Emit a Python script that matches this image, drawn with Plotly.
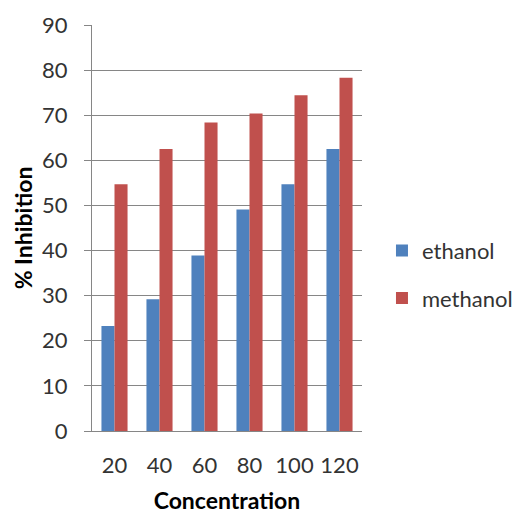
import plotly.graph_objects as go

categories = ["20", "40", "60", "80", "100", "120"]
ethanol = [23.3, 29.2, 38.9, 49.1, 54.7, 62.5]
methanol = [54.7, 62.5, 68.4, 70.4, 74.4, 78.3]
y_ticks = [0, 10, 20, 30, 40, 50, 60, 70, 80, 90]

FONT = "Lato, 'Open Sans', sans-serif"

fig = go.Figure()
fig.add_trace(go.Bar(x=categories, y=ethanol, name="ethanol",
                     marker=dict(color="#4F81BD", line=dict(width=0)),
                     legendgroup="a"))
fig.add_trace(go.Bar(x=categories, y=methanol, name="methanol",
                     marker=dict(color="#C0504D", line=dict(width=0)),
                     legendgroup="b"))

fig.update_layout(
    width=525, height=514,
    margin=dict(l=92, r=163, t=25, b=83, autoexpand=False),
    paper_bgcolor="white", plot_bgcolor="white",
    barmode="group", bargap=0.42, bargroupgap=0,
    font=dict(family=FONT, size=22, color="#333333"),
    showlegend=True,
    legend=dict(x=1.074, y=0.385, xanchor="left", yanchor="middle",
                tracegroupgap=16, font=dict(size=22, color="#333333"),
                itemwidth=30, bgcolor="rgba(0,0,0,0)"),
    xaxis=dict(
        type="category", showgrid=False, showline=True,
        linecolor="#868686", linewidth=1, ticks="", ticklen=0,
        tickfont=dict(size=22), ticklabelstandoff=15,
        title=dict(text="<b>Concentration</b>", font=dict(size=23, color="black"), standoff=22),
    ),
    yaxis=dict(
        range=[0, 90], tickvals=y_ticks, showgrid=True, gridcolor="#868686",
        gridwidth=1, showline=True, linecolor="#868686", linewidth=1,
        ticks="outside", ticklen=7, tickcolor="#868686",
        tickfont=dict(size=22), zeroline=False, ticklabelstandoff=12,
        title=dict(text="<b>% Inhibition</b>", font=dict(size=23, color="black"), standoff=3),
    ),
)

fig.write_html("out.html")
